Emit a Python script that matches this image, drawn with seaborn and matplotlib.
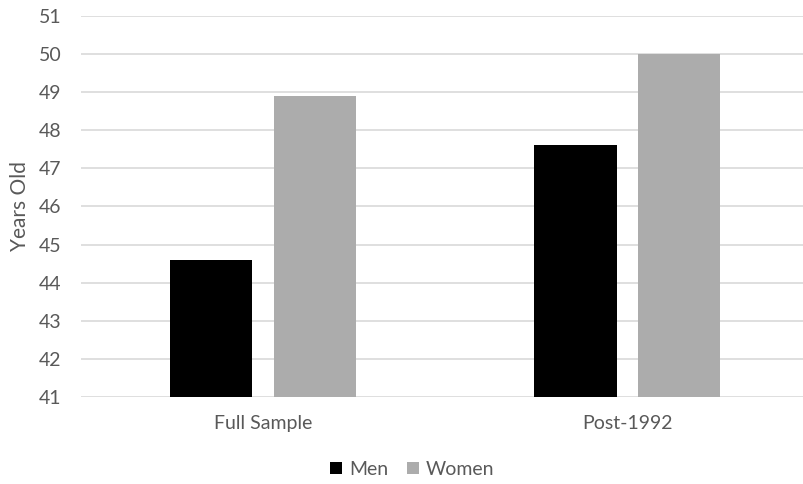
import matplotlib
matplotlib.use("Agg")
import matplotlib.pyplot as plt
import seaborn as sns
import pandas as pd

# Mean age by sample and sex
samples = ["Full Sample", "Post-1992"]
men_ages = [44.6, 47.6]
women_ages = [48.9, 50.0]
series_names = ["Men", "Women"]
y_ticks = list(range(41, 52))

df = pd.DataFrame({
    "sample": samples * 2,
    "sex": [series_names[0]] * len(samples) + [series_names[1]] * len(samples),
    "age": men_ages + women_ages,
})

sns.set_theme(style="white")
plt.rcParams["font.family"] = ["Lato", "DejaVu Sans"]

text_color = "#595959"
fig = plt.figure(figsize=(8.04, 4.84), dpi=100)
ax = fig.add_axes([0.1004, 0.1791, 0.9067, 0.7885])

sns.barplot(
    data=df, x="sample", y="age", hue="sex",
    palette={"Men": "#000000", "Women": "#acacac"},
    width=0.57, gap=0.21, ax=ax, legend=True,
    edgecolor="none", linewidth=0,
)

ax.set_ylim(41, 51)
ax.set_xlim(-0.5, 1.5)
ax.set_yticks(y_ticks)
ax.yaxis.grid(True, color="#d9d9d9", linewidth=1.2)
ax.set_axisbelow(True)
for s in ax.spines.values():
    s.set_visible(False)
ax.tick_params(axis="both", length=0, colors=text_color, labelsize=14)
ax.tick_params(axis="y", pad=14)
ax.tick_params(axis="x", pad=13)
ax.set_xlabel("")
ax.set_ylabel("Years Old", color=text_color, fontsize=15, labelpad=6)

ax.legend(
    loc="upper center", bbox_to_anchor=(0.455, -0.12), ncol=2, frameon=False,
    fontsize=14, handlelength=0.6, handleheight=0.6, handletextpad=0.35,
    columnspacing=1.0, labelcolor=text_color,
)

fig.savefig("out.png", dpi=100)
